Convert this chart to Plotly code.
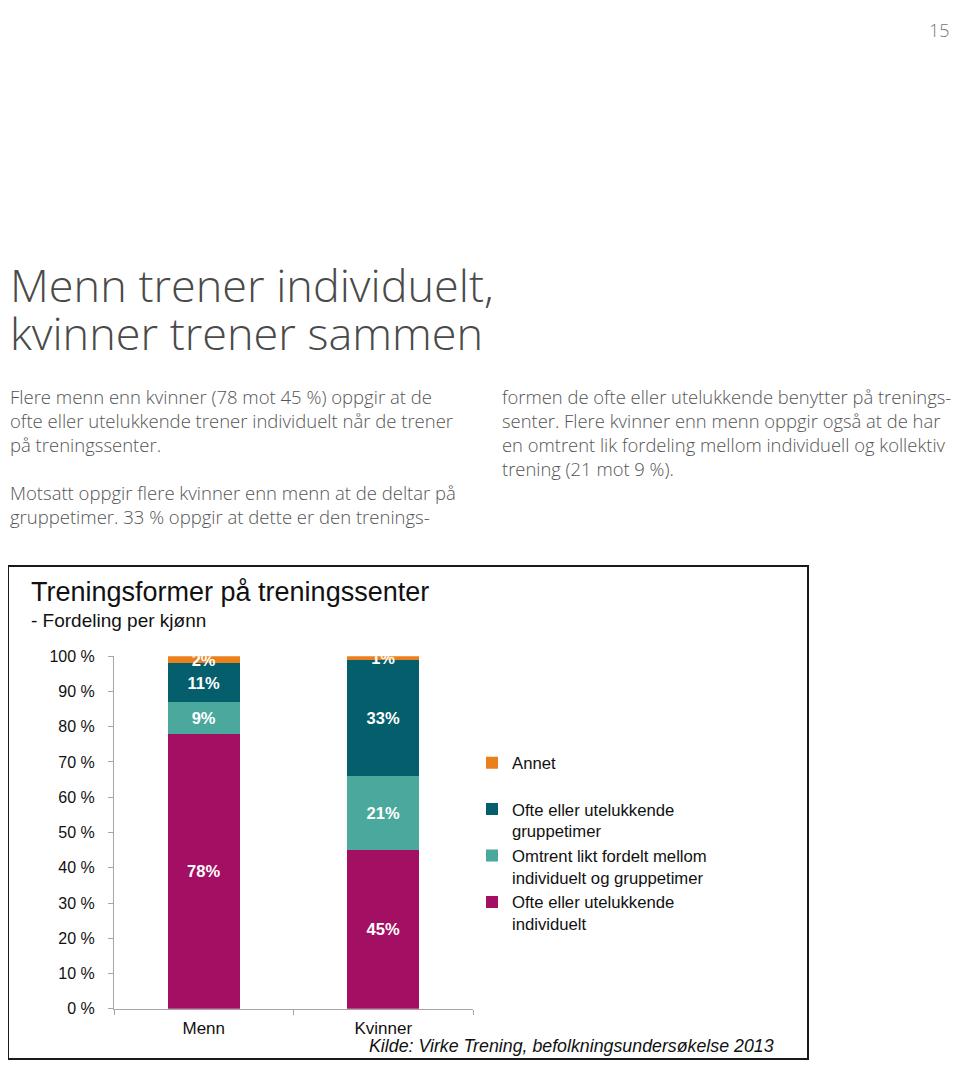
import plotly.graph_objects as go

# page has an 8px body margin; vertical positions are corrected for the
# slight vertical squeeze observed in the rendered picture
OX, OY = 8, 8
W, H = 944, 1061
SQ_A, SQ_B = 0.982, 9.3

categories = ["Menn", "Kvinner"]
legend_labels = [
    "Ofte eller utelukkende<br>individuelt",
    "Omtrent likt fordelt mellom<br>individuelt og gruppetimer",
    "Ofte eller utelukkende<br>gruppetimer",
    "Annet<br>\u00a0",
]
individuelt = [78, 45]
likt = [9, 21]
gruppe = [11, 33]
annet = [2, 1]
series_values = [individuelt, likt, gruppe, annet]
colors = ["#A30F63", "#4BA89D", "#045E6C", "#EB7F1C"]
y_ticks = [0, 10, 20, 30, 40, 50, 60, 70, 80, 90, 100]
y_tick_labels = [f"{v} %" for v in y_ticks]

ARIAL = "Liberation Sans, Arial, sans-serif"
PAGE = "Open Sans, Lato, Noto Sans, sans-serif"


def px(x):
    return (x - OX) / W


def py(y):
    fy = (y - SQ_B) / SQ_A - OY
    fy = min(max(fy, 0), H - 1)
    return 1 - fy / H


fig = go.Figure()
for lab, vals, col in zip(legend_labels, series_values, colors):
    fig.add_trace(go.Bar(
        x=categories, y=vals, name=lab,
        marker=dict(color=col, line=dict(width=0)),
        text=[f"{v}%" for v in vals], textposition="inside", insidetextanchor="middle",
        constraintext="none",
        textfont=dict(family=ARIAL, size=16.5, color="white", weight="bold"),
        width=0.4, hoverinfo="skip",
    ))

fig.update_layout(
    width=W, height=H, barmode="stack",
    margin=dict(l=0, r=0, t=0, b=0),
    paper_bgcolor="white", plot_bgcolor="white",
    showlegend=True,
    legend=dict(
        x=px(472), y=py(745), xanchor="left", yanchor="top",
        traceorder="reversed", valign="top",
        font=dict(family=ARIAL, size=16.7, color="#111"),
        bgcolor="rgba(0,0,0,0)", itemwidth=30,
    ),
    xaxis=dict(
        domain=[px(114), px(473)], anchor="y",
        showline=True, linecolor="#A6A6A6", linewidth=1,
        ticks="outside", tickson="boundaries", ticklen=5, tickcolor="#A6A6A6",
        tickfont=dict(family=ARIAL, size=17, color="#111"),
        showgrid=False, zeroline=False, ticklabelstandoff=4,
    ),
    yaxis=dict(
        domain=[py(1008), py(656)], anchor="x",
        range=[0, 100], tickvals=y_ticks, ticktext=y_tick_labels,
        showline=True, linecolor="#A6A6A6", linewidth=1,
        ticks="outside", ticklen=5, tickcolor="#A6A6A6",
        tickfont=dict(family=ARIAL, size=16, color="#111"),
        showgrid=False, zeroline=False, ticklabelstandoff=10,
    ),
)

# chart frame
fig.add_shape(type="rect", xref="paper", yref="paper",
              x0=px(8), x1=px(808), y0=py(1067), y1=py(566),
              line=dict(color="#1a1a1a", width=2), fillcolor="rgba(0,0,0,0)")

annotations = []


def ann(text, x, y, size, color, family, xanchor="left", yanchor="middle", **kw):
    annotations.append(dict(text=text, x=px(x), y=py(y), xref="paper", yref="paper",
                            xanchor=xanchor, yanchor=yanchor, showarrow=False,
                            font=dict(family=family, size=size, color=color, **kw),
                            align="left"))


ann("Treningsformer på treningssenter", 29, 592, 27, "#111", ARIAL)
ann("- Fordeling per kjønn", 29, 620, 19, "#111", ARIAL)
ann("<i>Kilde: Virke Trening, befolkningsundersøkelse 2013</i>", 776, 1045, 17.8, "#111", ARIAL,
    xanchor="right")

# page text
ann("15", 952, 0, 18, "#777", PAGE, xanchor="right", yanchor="top", weight=300)
ann("Menn trener individuelt,", 8, 285, 45, "#4a4a4a", PAGE, weight=300)
ann("kvinner trener sammen", 8, 333, 45, "#4a4a4a", PAGE, weight=300)

left_lines = [
    (397, "Flere menn enn kvinner (78 mot 45 %) oppgir at de"),
    (421, "ofte eller utelukkende trener individuelt når de trener"),
    (445, "på treningssenter."),
    (493, "Motsatt oppgir flere kvinner enn menn at de deltar på"),
    (517, "gruppetimer. 33 % oppgir at dette er den trenings-"),
]
right_lines = [
    (397, "formen de ofte eller utelukkende benytter på trenings-"),
    (421, "senter. Flere kvinner enn menn oppgir også at de har"),
    (445, "en omtrent lik fordeling mellom individuell og kollektiv"),
    (469, "trening (21 mot 9 %)."),
]
for y, t in left_lines:
    ann(t, 8, y, 18.5, "#555", PAGE, weight=300)
for y, t in right_lines:
    ann(t, 500, y, 18.4, "#555", PAGE, weight=300)

fig.update_layout(annotations=annotations)

fig.write_html("out.html")
